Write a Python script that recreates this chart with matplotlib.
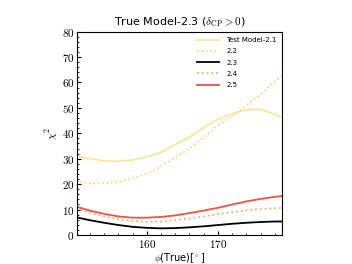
import matplotlib
matplotlib.use("Agg")
import matplotlib.pyplot as plt
from matplotlib.ticker import MultipleLocator, FuncFormatter

plt.rcParams['mathtext.fontset'] = 'cm'

phi = [150, 152, 154, 156, 158, 160, 162, 164, 166, 168, 170, 172, 174, 176, 178, 179]
m21 = [31.3, 30.0, 29.2, 29.0, 29.5, 30.7, 32.5, 35.6, 38.5, 42.3, 45.5, 47.8, 49.3, 49.4, 47.5, 46.3]
m22 = [21.2, 20.3, 20.3, 20.9, 22.2, 24.2, 27.0, 30.6, 34.0, 38.5, 43.0, 46.8, 51.0, 55.3, 60.5, 62.8]
m23 = [7.0, 5.8, 4.8, 3.9, 3.2, 2.8, 2.6, 2.7, 3.0, 3.4, 3.9, 4.4, 4.8, 5.1, 5.3, 5.3]
m24 = [10.6, 8.8, 7.3, 6.2, 5.5, 5.2, 5.3, 5.8, 6.5, 7.3, 8.2, 9.0, 9.7, 10.2, 10.5, 10.6]
m25 = [11.2, 9.6, 8.3, 7.3, 6.8, 6.8, 7.1, 7.7, 8.6, 9.6, 10.7, 12.0, 13.2, 14.2, 15.0, 15.3]
labels = ['Test Model-2.1', '2.2', '2.3', '2.4', '2.5']

fig = plt.figure(figsize=(3.52, 2.64), dpi=100)
ax = fig.add_axes([0.219, 0.11, 0.582, 0.77])

ax.plot(phi, m21, color='#fde68f', lw=1.2, ls='-', label=labels[0])
ax.plot(phi, m22, color='#fdd06a', lw=1.2, ls=':', label=labels[1])
ax.plot(phi, m23, color='black', lw=1.3, ls='-', label=labels[2])
ax.plot(phi, m24, color='#fca870', lw=1.3, ls=':', label=labels[3])
ax.plot(phi, m25, color='#f4523a', lw=1.3, ls='-', label=labels[4])

ax.set_xlim(150.2, 179)
ax.set_ylim(0, 80)
ax.xaxis.set_major_locator(MultipleLocator(10))
ax.xaxis.set_minor_locator(MultipleLocator(2))
ax.yaxis.set_major_locator(MultipleLocator(10))
ax.yaxis.set_minor_locator(MultipleLocator(2))
fmt = FuncFormatter(lambda v, p: r'$%d$' % v)
ax.xaxis.set_major_formatter(fmt)
ax.yaxis.set_major_formatter(fmt)
ax.tick_params(which='both', direction='in', labelsize=8, right=False, top=False, pad=2)
ax.tick_params(which='major', length=3)
ax.tick_params(which='minor', length=1.5)

ax.set_title(r'True Model-2.3 ($\delta_{\rm CP} > 0$)', fontsize=8, pad=5)
ax.set_xlabel(r'$\phi$(True)[$^\circ$]', fontsize=7, labelpad=1)
ax.set_ylabel(r'$\chi^2$', fontsize=8, labelpad=1)

ax.legend(loc='upper right', frameon=False, fontsize=5, handlelength=3.2,
          labelspacing=0.75, borderaxespad=0.4, handletextpad=1.0)

fig.savefig('out.png', dpi=100)
